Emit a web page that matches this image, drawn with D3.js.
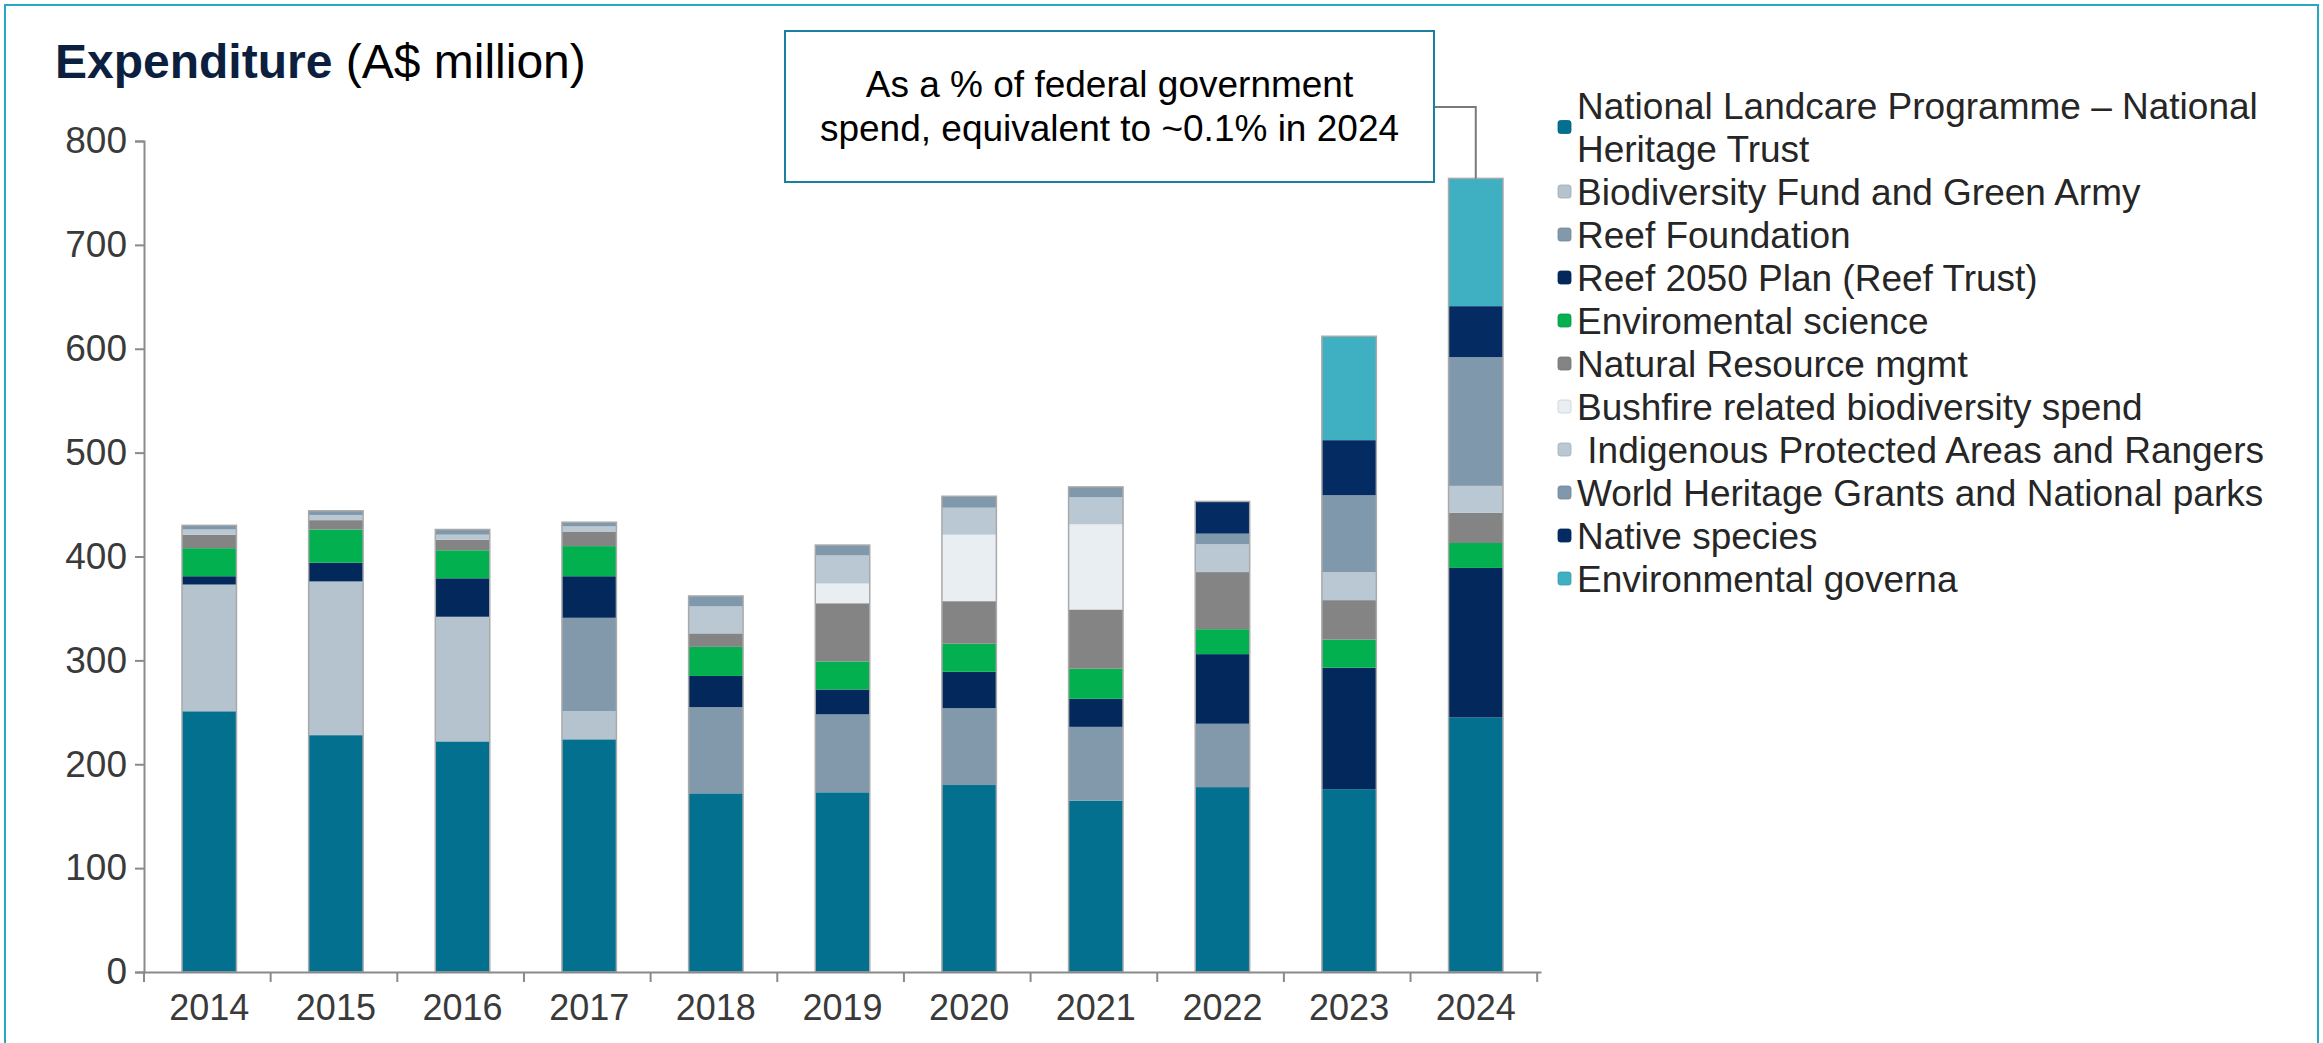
<!DOCTYPE html>
<html>
<head>
<meta charset="utf-8">
<script src="https://cdn.jsdelivr.net/npm/d3@7"></script>
<style>
  html, body { margin: 0; padding: 0; background: #ffffff; }
  svg { display: block; }
  text { font-family: "Liberation Sans", Arial, Helvetica, sans-serif; }
</style>
</head>
<body>
<svg id="chart" width="2323" height="1043"></svg>
<script>
// Fiscal years on the x axis
const years = ["2014", "2015", "2016", "2017", "2018", "2019", "2020", "2021", "2022", "2023", "2024"];

// Programme names, in stacking order (bottom to top)
const seriesNames = [
  "National Landcare Programme – National\nHeritage Trust",
  "Biodiversity Fund and Green Army",
  "Reef Foundation",
  "Reef 2050 Plan (Reef Trust)",
  "Enviromental science",
  "Natural Resource mgmt",
  "Bushfire related biodiversity spend",
  " Indigenous Protected Areas and Rangers",
  "World Heritage Grants and National parks",
  "Native species",
  "Environmental governa"
];

// Spend per programme, A$ million, one value per year
const landcare        = [251, 228, 222, 224, 172, 173, 180, 165, 178, 176, 245];
const biodiversity    = [122, 148, 120,  27,   0,   0,   0,   0,   0,   0,   0];
const reefFoundation  = [  0,   0,   0,  90,  83,  75,  74,  71,  61,   0,   0];
const reef2050        = [  8,  18,  37,  40,  30,  24,  35,  27,  67, 117, 144];
const envScience      = [ 27,  32,  27,  29,  28,  27,  27,  29,  24,  27,  24];
const naturalResource = [ 13,   9,  10,  14,  13,  56,  41,  57,  55,  38,  29];
const bushfire        = [  0,   0,   0,   0,   0,  19,  64,  82,   0,   0,   0];
const indigenous      = [  5,   5,   5,   5,  26,  27,  26,  26,  27,  27,  26];
const worldHeritage   = [  4,   4,   5,   4,  10,  10,  11,  10,  10,  74, 124];
const nativeSpecies   = [  0,   0,   0,   0,   0,   0,   0,   0,  31,  53,  49];
const envGovernance   = [  0,   0,   0,   0,   0,   0,   0,   0,   0, 100, 123];

const seriesValues = [landcare, biodiversity, reefFoundation, reef2050, envScience,
  naturalResource, bushfire, indigenous, worldHeritage, nativeSpecies, envGovernance];

const seriesColors = ["#03708f", "#b4c3cd", "#8199ab", "#03295c", "#02b04f",
  "#848484", "#e9eef2", "#b9c8d3", "#7f98ab", "#042b62", "#3fb0c1"];

// Y axis ticks
const yTicks = [0, 100, 200, 300, 400, 500, 600, 700, 800];

const titleBold = "Expenditure";
const titleRest = " (A$ million)";
const noteLines = ["As a % of federal government", "spend, equivalent to ~0.1% in 2024"];
const noteYear = "2024";

// ---- build table for the stack ----
const keys = seriesNames.map((d, i) => "s" + i);
const table = years.map((yr, j) => {
  const row = { year: yr };
  keys.forEach((k, i) => { row[k] = seriesValues[i][j]; });
  return row;
});
const stacked = d3.stack().keys(keys)(table);

const svg = d3.select("#chart");

// outer frame
svg.append("rect")
  .attr("x", 5).attr("y", 5)
  .attr("width", 2313).attr("height", 1060)
  .attr("fill", "none")
  .attr("stroke", "#25a8c2")
  .attr("stroke-width", 2);

// scales
const x = d3.scaleBand().domain(years).range([144, 1541]).paddingInner(0.57).paddingOuter(0.3);
const y = d3.scaleLinear().domain([0, 800]).range([972, 141]);

// title
const title = svg.append("text").attr("x", 55).attr("y", 78).attr("font-size", 48);
title.append("tspan").attr("font-weight", "bold").attr("fill", "#0c1f3f").text(titleBold);
title.append("tspan").attr("fill", "#000").text(titleRest);

// bars
const layers = svg.append("g").selectAll("g")
  .data(stacked).join("g")
  .attr("fill", (d, i) => seriesColors[i]);

layers.selectAll("rect")
  .data(d => d.filter(p => p[1] - p[0] > 0))
  .join("rect")
  .attr("x", d => x(d.data.year))
  .attr("width", x.bandwidth())
  .attr("y", d => y(d[1]))
  .attr("height", d => y(d[0]) - y(d[1]));

// soft outline round each bar
const totals = years.map((yr, j) => ({ year: yr, total: d3.sum(seriesValues, s => s[j]) }));
svg.append("g").selectAll("rect")
  .data(totals).join("rect")
  .attr("x", d => x(d.year))
  .attr("width", x.bandwidth())
  .attr("y", d => y(d.total))
  .attr("height", d => y(0) - y(d.total))
  .attr("fill", "none")
  .attr("stroke", "#a9a9a9")
  .attr("stroke-width", 1.5);

// y axis
const yAxis = svg.append("g")
  .attr("transform", `translate(${x.range()[0]},0)`)
  .call(d3.axisLeft(y).tickValues(yTicks).tickSize(9).tickPadding(8));
yAxis.selectAll("line, path").attr("stroke", "#8a8a8a").attr("stroke-width", 2);
yAxis.selectAll("text").attr("font-size", 37).attr("fill", "#3a3a3a")
  .attr("font-family", "'Liberation Sans', Arial, sans-serif");

// x axis: labels centred in bands, tick marks at band edges
const xAxis = svg.append("g")
  .attr("transform", `translate(0,${y(0)})`)
  .call(d3.axisBottom(x).tickSize(0).tickPadding(22));
xAxis.select("path").attr("stroke", "#8a8a8a").attr("stroke-width", 2);
xAxis.selectAll("text").attr("font-size", 36).attr("fill", "#3a3a3a")
  .attr("font-family", "'Liberation Sans', Arial, sans-serif");
const edges = d3.range(years.length + 1).map(i => x.range()[0] + i * x.step());
xAxis.selectAll(".edge").data(edges).join("line")
  .attr("class", "edge")
  .attr("x1", d => d).attr("x2", d => d)
  .attr("y1", 0).attr("y2", 10)
  .attr("stroke", "#8a8a8a").attr("stroke-width", 2);

// legend
const legend = svg.append("g").attr("transform", "translate(1558,0)");
const lineH = 43;
let lineIdx = 0;
seriesNames.forEach((name, i) => {
  const lines = name.split("\n");
  const top = 106 + lineIdx * lineH;
  const mid = top + (lines.length - 1) * lineH / 2;
  legend.append("rect")
    .attr("x", 0).attr("y", mid - 7)
    .attr("width", 13).attr("height", 13)
    .attr("rx", 2.5)
    .attr("fill", seriesColors[i])
    .attr("stroke", d3.color(seriesColors[i]).darker(0.4))
    .attr("stroke-width", 0.8);
  const t = legend.append("text")
    .attr("x", 19)
    .attr("font-size", 37)
    .attr("fill", "#262626")
    .attr("xml:space", "preserve")
    .style("white-space", "pre");
  lines.forEach((ln, k) => {
    t.append("tspan").attr("x", 19).attr("y", top + k * lineH)
      .attr("dy", "0.35em").text(ln);
  });
  lineIdx += lines.length;
});

// annotation box with elbow connector to the 2024 bar
const boxX = 785, boxY = 31, boxW = 649, boxH = 151;
const lastTotal = totals.find(d => d.year === noteYear).total;
const cx = x(noteYear) + x.bandwidth() / 2;
svg.append("path")
  .attr("d", `M${boxX + boxW},${boxY + 76} H${cx} V${y(lastTotal)}`)
  .attr("fill", "none")
  .attr("stroke", "#7a7a7a")
  .attr("stroke-width", 2);
svg.append("rect")
  .attr("x", boxX).attr("y", boxY)
  .attr("width", boxW).attr("height", boxH)
  .attr("fill", "#fff")
  .attr("stroke", "#1b7f9e")
  .attr("stroke-width", 2);
const note = svg.append("text")
  .attr("text-anchor", "middle")
  .attr("font-size", 37)
  .attr("fill", "#000");
noteLines.forEach((ln, k) => {
  note.append("tspan")
    .attr("x", boxX + boxW / 2)
    .attr("y", boxY + 66 + k * 44)
    .text(ln);
});
</script>
</body>
</html>
